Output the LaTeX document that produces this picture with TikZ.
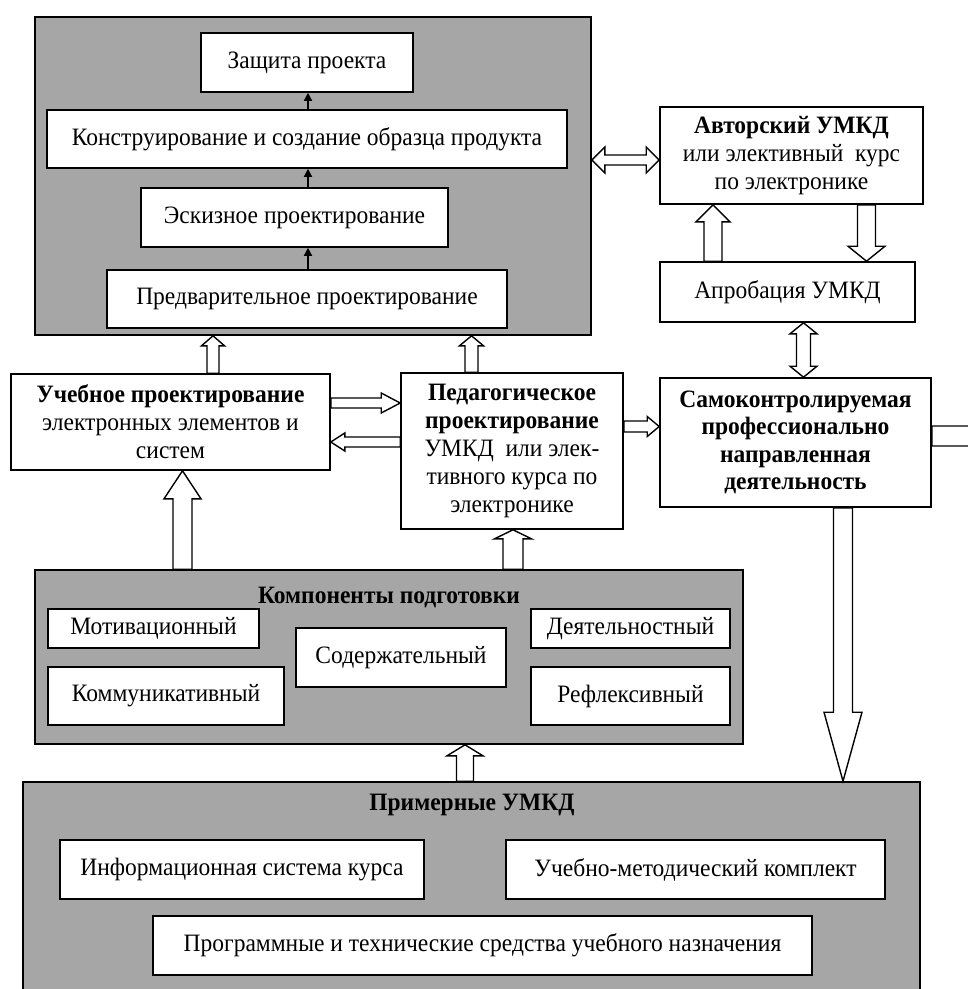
\documentclass[tikz,border=0pt]{standalone}
\usepackage{fontspec}
\setmainfont[FakeStretch=0.94]{Liberation Serif}
\usetikzlibrary{calc,arrows.meta}
\definecolor{panel}{HTML}{A6A6A6}
\tikzset{
  txt/.style={font=\fontsize{25}{28}\selectfont},
  box/.style={draw=black, line width=1.6pt, fill=white, align=center, inner sep=0pt, txt},
  frame/.style={draw=black, line width=1.6pt, fill=panel, inner sep=0pt},
  blockarrow/.style={draw=black, line width=1.4pt, fill=white, line join=miter},
  smallarrow/.style={line width=1.4pt, -{Triangle[length=8pt,width=8pt]}},
  title/.style={font=\fontsize{25}{28}\selectfont\bfseries, inner sep=0pt},
}
% single-headed block arrow: #1 start, #2 tip, #3 half shaft, #4 half head, #5 head length
\newcommand\blockarr[5]{%
  \draw[blockarrow] let \p1=#1, \p2=#2, \n1={veclen(\x2-\x1,\y2-\y1)},
      \n2={(\x2-\x1)/\n1}, \n3={(\y2-\y1)/\n1} in
    ({\x1-(#3)*(\n3)},{\y1+(#3)*(\n2)}) --
    ({\x2-(#5)*(\n2)-(#3)*(\n3)},{\y2-(#5)*(\n3)+(#3)*(\n2)}) --
    ({\x2-(#5)*(\n2)-(#4)*(\n3)},{\y2-(#5)*(\n3)+(#4)*(\n2)}) --
    (\x2,\y2) --
    ({\x2-(#5)*(\n2)+(#4)*(\n3)},{\y2-(#5)*(\n3)-(#4)*(\n2)}) --
    ({\x2-(#5)*(\n2)+(#3)*(\n3)},{\y2-(#5)*(\n3)-(#3)*(\n2)}) --
    ({\x1+(#3)*(\n3)},{\y1-(#3)*(\n2)}) -- cycle;}
% double-headed block arrow
\newcommand\dblarr[5]{%
  \draw[blockarrow] let \p1=#1, \p2=#2, \n1={veclen(\x2-\x1,\y2-\y1)},
      \n2={(\x2-\x1)/\n1}, \n3={(\y2-\y1)/\n1} in
    (\x1,\y1) --
    ({\x1+(#5)*(\n2)-(#4)*(\n3)},{\y1+(#5)*(\n3)+(#4)*(\n2)}) --
    ({\x1+(#5)*(\n2)-(#3)*(\n3)},{\y1+(#5)*(\n3)+(#3)*(\n2)}) --
    ({\x2-(#5)*(\n2)-(#3)*(\n3)},{\y2-(#5)*(\n3)+(#3)*(\n2)}) --
    ({\x2-(#5)*(\n2)-(#4)*(\n3)},{\y2-(#5)*(\n3)+(#4)*(\n2)}) --
    (\x2,\y2) --
    ({\x2-(#5)*(\n2)+(#4)*(\n3)},{\y2-(#5)*(\n3)-(#4)*(\n2)}) --
    ({\x2-(#5)*(\n2)+(#3)*(\n3)},{\y2-(#5)*(\n3)-(#3)*(\n2)}) --
    ({\x1+(#5)*(\n2)+(#3)*(\n3)},{\y1+(#5)*(\n3)-(#3)*(\n2)}) --
    ({\x1+(#5)*(\n2)+(#4)*(\n3)},{\y1+(#5)*(\n3)-(#4)*(\n2)}) -- cycle;}
\begin{document}
\begin{tikzpicture}[x=1pt,y=-1pt]
\useasboundingbox (0,0) rectangle (968,989);
\clip (0,0) rectangle (968,989);
\fill[white] (0,0) rectangle (968,989);

% columns and rows for connectors
\coordinate (cA) at (213,0);
\coordinate (cB) at (471.5,0);
\coordinate (cC) at (182.5,0);
\coordinate (cD) at (513,0);
\coordinate (cE) at (465,0);
\coordinate (cF) at (843,0);
\coordinate (cG) at (803.5,0);
\coordinate (cH) at (713,0);
\coordinate (cI) at (866.5,0);
\coordinate (cJ) at (308,0);
\coordinate (rA) at (0,403);
\coordinate (rB) at (0,442);
\coordinate (rC) at (0,426.5);
\coordinate (rD) at (0,436);
\coordinate (rE) at (0,160);
\coordinate (outR) at (1010,436);

% top frame
\node[frame, minimum width=556pt, minimum height=318pt] (top) at (313,176) {};
\node[box, minimum width=212pt, minimum height=59pt] (zashch) at (307,62.5) {Защита проекта};
\node[box, minimum width=520pt, minimum height=58pt] (konstr) at (307,139) {Конструирование и создание образца продукта};
\node[box, minimum width=307pt, minimum height=59pt] (eskiz) at (294.5,217.5) {Эскизное проектирование};
\node[box, minimum width=400pt, minimum height=58pt] (predv) at (307,299) {Предварительное проектирование};

\draw[smallarrow] (predv.north -| cJ) -- (eskiz.south -| cJ);
\draw[smallarrow] (eskiz.north -| cJ) -- (konstr.south -| cJ);
\draw[smallarrow] (konstr.north -| cJ) -- (zashch.south -| cJ);

% right column
\node[box, minimum width=263pt, minimum height=97pt] (avt) at (791.5,155.5)
  {\textbf{Авторский УМКД}\\или элективный\ \ курс\\по электронике};
\node[box, minimum width=255pt, minimum height=60pt] (aprob) at (787.5,292) {Апробация УМКД};

% middle row
\node[box, minimum width=319pt, minimum height=96pt] (uch) at (170.5,422)
  {\textbf{Учебное проектирование}\\электронных элементов и\\систем};
\node[box, minimum width=222pt, minimum height=156pt] (ped) at (512,451)
  {\textbf{Педагогическое}\\\textbf{проектирование}\\УМКД\ \ или элек-\\тивного курса по\\электронике};
\node[box, minimum width=271pt, minimum height=129pt, font=\fontsize{25}{27.5}\selectfont\bfseries] (samo) at (795.5,442.5)
  {Самоконтролируемая\\профессионально\\направленная\\деятельность};

% components frame
\node[frame, minimum width=708pt, minimum height=174pt] (comp) at (389,657) {};
\node[title] (compT) at (389,597) {Компоненты подготовки};
\node[box, minimum width=211pt, minimum height=39pt] (motiv) at (153.5,628.5) {Мотивационный};
\node[box, minimum width=236pt, minimum height=58pt] (kommun) at (166,696) {Коммуникативный};
\node[box, minimum width=210pt, minimum height=59pt] (soder) at (401,657.5) {Содержательный};
\node[box, minimum width=199pt, minimum height=39pt] (deyat) at (630.5,628.5) {Деятельностный};
\node[box, minimum width=199pt, minimum height=58pt] (refl) at (630.5,696) {Рефлексивный};

% bottom frame
\node[frame, minimum width=897pt, minimum height=236pt] (bot) at (471.5,900) {};
\node[title] (botT) at (472,805) {Примерные УМКД};
\node[box, minimum width=364pt, minimum height=59pt] (info) at (242,869.5) {Информационная система курса};
\node[box, minimum width=379pt, minimum height=59pt] (umk) at (695.5,869.5) {Учебно-методический комплект};
\node[box, minimum width=659pt, minimum height=59pt] (progr) at (482.5,945.5) {Программные и технические средства учебного назначения};

% block arrows
\dblarr{(top.east |- rE)}{(avt.west |- rE)}{5pt}{13pt}{13pt}
\blockarr{(aprob.north -| cH)}{(avt.south -| cH)}{9pt}{17pt}{17pt}
\blockarr{(avt.south -| cI)}{(aprob.north -| cI)}{9pt}{18.5pt}{15pt}
\dblarr{(aprob.south -| cG)}{(samo.north -| cG)}{7pt}{13.5pt}{11pt}
\blockarr{(uch.north -| cA)}{(top.south -| cA)}{6pt}{11.5pt}{10pt}
\blockarr{(ped.north -| cB)}{(top.south -| cB)}{6.5pt}{12pt}{10pt}
\blockarr{(uch.east |- rA)}{(ped.west |- rA)}{5pt}{10pt}{19pt}
\blockarr{(ped.west |- rB)}{(uch.east |- rB)}{5pt}{9pt}{14pt}
\blockarr{(ped.east |- rC)}{(samo.west |- rC)}{5.5pt}{10pt}{12pt}
\blockarr{(samo.east |- rD)}{(outR)}{10pt}{20pt}{20pt}
\blockarr{(comp.north -| cC)}{(uch.south -| cC)}{9.5pt}{18.5pt}{28pt}
\blockarr{(comp.north -| cD)}{(ped.south -| cD)}{10pt}{18.5pt}{9pt}
\blockarr{(bot.north -| cE)}{(comp.south -| cE)}{8.5pt}{18pt}{11pt}
\blockarr{(samo.south -| cF)}{(bot.north -| cF)}{9.5pt}{19pt}{69pt}
\end{tikzpicture}
\end{document}
